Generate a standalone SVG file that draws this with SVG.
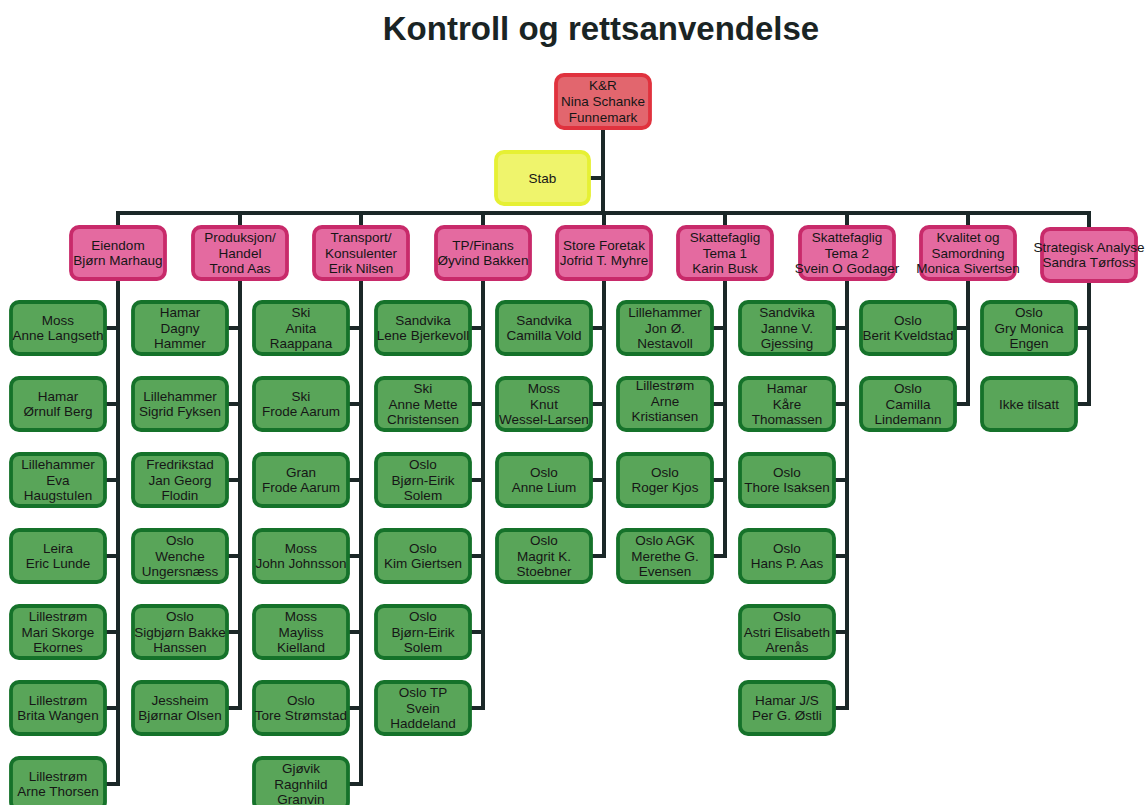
<svg xmlns="http://www.w3.org/2000/svg" width="1146" height="805" viewBox="0 0 1146 805">
<style>
.t{font-family:"Liberation Sans",Arial,sans-serif;font-size:13.5px;fill:#161616;text-anchor:middle}
.title{font-family:"Liberation Sans",Arial,sans-serif;font-size:33px;font-weight:bold;fill:#1a2424;text-anchor:middle}
.g{fill:#59a559;stroke:#15722a;stroke-width:3.8}
.p{fill:#e46aa0;stroke:#c82a6a;stroke-width:3.8}
.r{fill:#e2666e;stroke:#e0323e;stroke-width:3.8}
.y{fill:#eff46c;stroke:#e6f034;stroke-width:3.8}
.c{fill:none;stroke:#1b2828;stroke-width:4}
</style>
<rect width="1146" height="805" fill="#ffffff"/>
<text class="title" x="601" y="40">Kontroll og rettsanvendelse</text>

<g id="connectors">
<path class="c" d="M603,128 V215 M588,178 H603 M116,213 H1091"/>
<path class="c" d="M118,213 V227 M240,213 V227 M361,213 V227 M483,213 V227 M604,213 V227 M725,213 V227 M847,213 V227 M968,213 V227 M1089,213 V227"/>
<path class="c" d="M118,279 V786 M105,328 H118 M105,404 H118 M105,480 H118 M105,556 H118 M105,632 H118 M105,708 H118 M105,784 H118"/>
<path class="c" d="M240,279 V710 M227,328 H240 M227,404 H240 M227,480 H240 M227,556 H240 M227,632 H240 M227,708 H240"/>
<path class="c" d="M361,279 V786 M348,328 H361 M348,404 H361 M348,480 H361 M348,556 H361 M348,632 H361 M348,708 H361 M348,784 H361"/>
<path class="c" d="M483,279 V710 M470,328 H483 M470,404 H483 M470,480 H483 M470,556 H483 M470,632 H483 M470,708 H483"/>
<path class="c" d="M604,279 V558 M591,328 H604 M591,404 H604 M591,480 H604 M591,556 H604"/>
<path class="c" d="M725,279 V558 M712,328 H725 M712,404 H725 M712,480 H725 M712,556 H725"/>
<path class="c" d="M847,279 V710 M834,328 H847 M834,404 H847 M834,480 H847 M834,556 H847 M834,632 H847 M834,708 H847"/>
<path class="c" d="M968,279 V406 M955,328 H968 M955,404 H968"/>
<path class="c" d="M1089,279 V406 M1076,328 H1089 M1076,404 H1089"/>
</g>

<g id="kr"><rect class="r" x="556" y="75" width="94" height="53" rx="8"/>
<text class="t"><tspan x="603" y="90">K&amp;R</tspan><tspan x="603" y="106">Nina Schanke</tspan><tspan x="603" y="122">Funnemark</tspan></text></g>
<g id="stab"><rect class="y" x="496" y="152" width="93" height="52" rx="8"/>
<text class="t" x="542.5" y="182.5">Stab</text></g>

<g id="d1"><rect class="p" x="71" y="227" width="94" height="52" rx="8"/>
<text class="t"><tspan x="118" y="249.75">Eiendom</tspan><tspan x="118" y="265.25">Bjørn Marhaug</tspan></text></g>
<g id="d2"><rect class="p" x="193" y="227" width="94" height="52" rx="8"/>
<text class="t"><tspan x="240" y="242">Produksjon/</tspan><tspan x="240" y="257.5">Handel</tspan><tspan x="240" y="273">Trond Aas</tspan></text></g>
<g id="d3"><rect class="p" x="314" y="227" width="94" height="52" rx="8"/>
<text class="t"><tspan x="361" y="242">Transport/</tspan><tspan x="361" y="257.5">Konsulenter</tspan><tspan x="361" y="273">Erik Nilsen</tspan></text></g>
<g id="d4"><rect class="p" x="436" y="227" width="94" height="52" rx="8"/>
<text class="t"><tspan x="483" y="249.75">TP/Finans</tspan><tspan x="483" y="265.25">Øyvind Bakken</tspan></text></g>
<g id="d5"><rect class="p" x="557" y="227" width="94" height="52" rx="8"/>
<text class="t"><tspan x="604" y="249.75">Store Foretak</tspan><tspan x="604" y="265.25">Jofrid T. Myhre</tspan></text></g>
<g id="d6"><rect class="p" x="678" y="227" width="94" height="52" rx="8"/>
<text class="t"><tspan x="725" y="242">Skattefaglig</tspan><tspan x="725" y="257.5">Tema 1</tspan><tspan x="725" y="273">Karin Busk</tspan></text></g>
<g id="d7"><rect class="p" x="800" y="227" width="94" height="52" rx="8"/>
<text class="t"><tspan x="847" y="242">Skattefaglig</tspan><tspan x="847" y="257.5">Tema 2</tspan><tspan x="847" y="273">Svein O Godager</tspan></text></g>
<g id="d8"><rect class="p" x="921" y="227" width="94" height="52" rx="8"/>
<text class="t"><tspan x="968" y="242">Kvalitet og</tspan><tspan x="968" y="257.5">Samordning</tspan><tspan x="968" y="273">Monica Sivertsen</tspan></text></g>
<g id="d9"><rect class="p" x="1042" y="229" width="94" height="52" rx="8"/>
<text class="t"><tspan x="1089" y="251.75">Strategisk Analyse</tspan><tspan x="1089" y="267.25">Sandra Tørfoss</tspan></text></g>

<!-- column 1 -->
<g id="n1_1"><rect class="g" x="11" y="302" width="94" height="52" rx="8"/><text class="t"><tspan x="58" y="324.75">Moss</tspan><tspan x="58" y="340.25">Anne Langseth</tspan></text></g>
<g id="n1_2"><rect class="g" x="11" y="378" width="94" height="52" rx="8"/><text class="t"><tspan x="58" y="400.75">Hamar</tspan><tspan x="58" y="416.25">Ørnulf Berg</tspan></text></g>
<g id="n1_3"><rect class="g" x="11" y="454" width="94" height="52" rx="8"/><text class="t"><tspan x="58" y="469">Lillehammer</tspan><tspan x="58" y="484.5">Eva</tspan><tspan x="58" y="500">Haugstulen</tspan></text></g>
<g id="n1_4"><rect class="g" x="11" y="530" width="94" height="52" rx="8"/><text class="t"><tspan x="58" y="552.75">Leira</tspan><tspan x="58" y="568.25">Eric Lunde</tspan></text></g>
<g id="n1_5"><rect class="g" x="11" y="606" width="94" height="52" rx="8"/><text class="t"><tspan x="58" y="621">Lillestrøm</tspan><tspan x="58" y="636.5">Mari Skorge</tspan><tspan x="58" y="652">Ekornes</tspan></text></g>
<g id="n1_6"><rect class="g" x="11" y="682" width="94" height="52" rx="8"/><text class="t"><tspan x="58" y="704.75">Lillestrøm</tspan><tspan x="58" y="720.25">Brita Wangen</tspan></text></g>
<g id="n1_7"><rect class="g" x="11" y="758" width="94" height="52" rx="8"/><text class="t"><tspan x="58" y="780.75">Lillestrøm</tspan><tspan x="58" y="796.25">Arne Thorsen</tspan></text></g>

<!-- column 2 -->
<g id="n2_1"><rect class="g" x="133" y="302" width="94" height="52" rx="8"/><text class="t"><tspan x="180" y="317">Hamar</tspan><tspan x="180" y="332.5">Dagny</tspan><tspan x="180" y="348">Hammer</tspan></text></g>
<g id="n2_2"><rect class="g" x="133" y="378" width="94" height="52" rx="8"/><text class="t"><tspan x="180" y="400.75">Lillehammer</tspan><tspan x="180" y="416.25">Sigrid Fyksen</tspan></text></g>
<g id="n2_3"><rect class="g" x="133" y="454" width="94" height="52" rx="8"/><text class="t"><tspan x="180" y="469">Fredrikstad</tspan><tspan x="180" y="484.5">Jan Georg</tspan><tspan x="180" y="500">Flodin</tspan></text></g>
<g id="n2_4"><rect class="g" x="133" y="530" width="94" height="52" rx="8"/><text class="t"><tspan x="180" y="545">Oslo</tspan><tspan x="180" y="560.5">Wenche</tspan><tspan x="180" y="576">Ungersnæss</tspan></text></g>
<g id="n2_5"><rect class="g" x="133" y="606" width="94" height="52" rx="8"/><text class="t"><tspan x="180" y="621">Oslo</tspan><tspan x="180" y="636.5">Sigbjørn Bakke</tspan><tspan x="180" y="652">Hanssen</tspan></text></g>
<g id="n2_6"><rect class="g" x="133" y="682" width="94" height="52" rx="8"/><text class="t"><tspan x="180" y="704.75">Jessheim</tspan><tspan x="180" y="720.25">Bjørnar Olsen</tspan></text></g>

<!-- column 3 -->
<g id="n3_1"><rect class="g" x="254" y="302" width="94" height="52" rx="8"/><text class="t"><tspan x="301" y="317">Ski</tspan><tspan x="301" y="332.5">Anita</tspan><tspan x="301" y="348">Raappana</tspan></text></g>
<g id="n3_2"><rect class="g" x="254" y="378" width="94" height="52" rx="8"/><text class="t"><tspan x="301" y="400.75">Ski</tspan><tspan x="301" y="416.25">Frode Aarum</tspan></text></g>
<g id="n3_3"><rect class="g" x="254" y="454" width="94" height="52" rx="8"/><text class="t"><tspan x="301" y="476.75">Gran</tspan><tspan x="301" y="492.25">Frode Aarum</tspan></text></g>
<g id="n3_4"><rect class="g" x="254" y="530" width="94" height="52" rx="8"/><text class="t"><tspan x="301" y="552.75">Moss</tspan><tspan x="301" y="568.25">John Johnsson</tspan></text></g>
<g id="n3_5"><rect class="g" x="254" y="606" width="94" height="52" rx="8"/><text class="t"><tspan x="301" y="621">Moss</tspan><tspan x="301" y="636.5">Mayliss</tspan><tspan x="301" y="652">Kielland</tspan></text></g>
<g id="n3_6"><rect class="g" x="254" y="682" width="94" height="52" rx="8"/><text class="t"><tspan x="301" y="704.75">Oslo</tspan><tspan x="301" y="720.25">Tore Strømstad</tspan></text></g>
<g id="n3_7"><rect class="g" x="254" y="758" width="94" height="52" rx="8"/><text class="t"><tspan x="301" y="773">Gjøvik</tspan><tspan x="301" y="788.5">Ragnhild</tspan><tspan x="301" y="804">Granvin</tspan></text></g>

<!-- column 4 -->
<g id="n4_1"><rect class="g" x="376" y="302" width="94" height="52" rx="8"/><text class="t"><tspan x="423" y="324.75">Sandvika</tspan><tspan x="423" y="340.25">Lene Bjerkevoll</tspan></text></g>
<g id="n4_2"><rect class="g" x="376" y="378" width="94" height="52" rx="8"/><text class="t"><tspan x="423" y="393">Ski</tspan><tspan x="423" y="408.5">Anne Mette</tspan><tspan x="423" y="424">Christensen</tspan></text></g>
<g id="n4_3"><rect class="g" x="376" y="454" width="94" height="52" rx="8"/><text class="t"><tspan x="423" y="469">Oslo</tspan><tspan x="423" y="484.5">Bjørn-Eirik</tspan><tspan x="423" y="500">Solem</tspan></text></g>
<g id="n4_4"><rect class="g" x="376" y="530" width="94" height="52" rx="8"/><text class="t"><tspan x="423" y="552.75">Oslo</tspan><tspan x="423" y="568.25">Kim Giertsen</tspan></text></g>
<g id="n4_5"><rect class="g" x="376" y="606" width="94" height="52" rx="8"/><text class="t"><tspan x="423" y="621">Oslo</tspan><tspan x="423" y="636.5">Bjørn-Eirik</tspan><tspan x="423" y="652">Solem</tspan></text></g>
<g id="n4_6"><rect class="g" x="376" y="682" width="94" height="52" rx="8"/><text class="t"><tspan x="423" y="697">Oslo TP</tspan><tspan x="423" y="712.5">Svein</tspan><tspan x="423" y="728">Haddeland</tspan></text></g>

<!-- column 5 -->
<g id="n5_1"><rect class="g" x="497" y="302" width="94" height="52" rx="8"/><text class="t"><tspan x="544" y="324.75">Sandvika</tspan><tspan x="544" y="340.25">Camilla Vold</tspan></text></g>
<g id="n5_2"><rect class="g" x="497" y="378" width="94" height="52" rx="8"/><text class="t"><tspan x="544" y="393">Moss</tspan><tspan x="544" y="408.5">Knut</tspan><tspan x="544" y="424">Wessel-Larsen</tspan></text></g>
<g id="n5_3"><rect class="g" x="497" y="454" width="94" height="52" rx="8"/><text class="t"><tspan x="544" y="476.75">Oslo</tspan><tspan x="544" y="492.25">Anne Lium</tspan></text></g>
<g id="n5_4"><rect class="g" x="497" y="530" width="94" height="52" rx="8"/><text class="t"><tspan x="544" y="545">Oslo</tspan><tspan x="544" y="560.5">Magrit K.</tspan><tspan x="544" y="576">Stoebner</tspan></text></g>

<!-- column 6 -->
<g id="n6_1"><rect class="g" x="618" y="302" width="94" height="52" rx="8"/><text class="t"><tspan x="665" y="317">Lillehammer</tspan><tspan x="665" y="332.5">Jon Ø.</tspan><tspan x="665" y="348">Nestavoll</tspan></text></g>
<g id="n6_2"><rect class="g" x="618" y="378" width="94" height="52" rx="8"/><text class="t"><tspan x="665" y="390">Lillestrøm</tspan><tspan x="665" y="405.5">Arne</tspan><tspan x="665" y="421">Kristiansen</tspan></text></g>
<g id="n6_3"><rect class="g" x="618" y="454" width="94" height="52" rx="8"/><text class="t"><tspan x="665" y="476.75">Oslo</tspan><tspan x="665" y="492.25">Roger Kjos</tspan></text></g>
<g id="n6_4"><rect class="g" x="618" y="530" width="94" height="52" rx="8"/><text class="t"><tspan x="665" y="545">Oslo AGK</tspan><tspan x="665" y="560.5">Merethe G.</tspan><tspan x="665" y="576">Evensen</tspan></text></g>

<!-- column 7 -->
<g id="n7_1"><rect class="g" x="740" y="302" width="94" height="52" rx="8"/><text class="t"><tspan x="787" y="317">Sandvika</tspan><tspan x="787" y="332.5">Janne V.</tspan><tspan x="787" y="348">Gjessing</tspan></text></g>
<g id="n7_2"><rect class="g" x="740" y="378" width="94" height="52" rx="8"/><text class="t"><tspan x="787" y="393">Hamar</tspan><tspan x="787" y="408.5">Kåre</tspan><tspan x="787" y="424">Thomassen</tspan></text></g>
<g id="n7_3"><rect class="g" x="740" y="454" width="94" height="52" rx="8"/><text class="t"><tspan x="787" y="476.75">Oslo</tspan><tspan x="787" y="492.25">Thore Isaksen</tspan></text></g>
<g id="n7_4"><rect class="g" x="740" y="530" width="94" height="52" rx="8"/><text class="t"><tspan x="787" y="552.75">Oslo</tspan><tspan x="787" y="568.25">Hans P. Aas</tspan></text></g>
<g id="n7_5"><rect class="g" x="740" y="606" width="94" height="52" rx="8"/><text class="t"><tspan x="787" y="621">Oslo</tspan><tspan x="787" y="636.5">Astri Elisabeth</tspan><tspan x="787" y="652">Arenås</tspan></text></g>
<g id="n7_6"><rect class="g" x="740" y="682" width="94" height="52" rx="8"/><text class="t"><tspan x="787" y="704.75">Hamar J/S</tspan><tspan x="787" y="720.25">Per G. Østli</tspan></text></g>

<!-- column 8 -->
<g id="n8_1"><rect class="g" x="861" y="302" width="94" height="52" rx="8"/><text class="t"><tspan x="908" y="324.75">Oslo</tspan><tspan x="908" y="340.25">Berit Kveldstad</tspan></text></g>
<g id="n8_2"><rect class="g" x="861" y="378" width="94" height="52" rx="8"/><text class="t"><tspan x="908" y="393">Oslo</tspan><tspan x="908" y="408.5">Camilla</tspan><tspan x="908" y="424">Lindemann</tspan></text></g>

<!-- column 9 -->
<g id="n9_1"><rect class="g" x="982" y="302" width="94" height="52" rx="8"/><text class="t"><tspan x="1029" y="317">Oslo</tspan><tspan x="1029" y="332.5">Gry Monica</tspan><tspan x="1029" y="348">Engen</tspan></text></g>
<g id="n9_2"><rect class="g" x="982" y="378" width="94" height="52" rx="8"/><text class="t" x="1029" y="408.5">Ikke tilsatt</text></g>
</svg>
